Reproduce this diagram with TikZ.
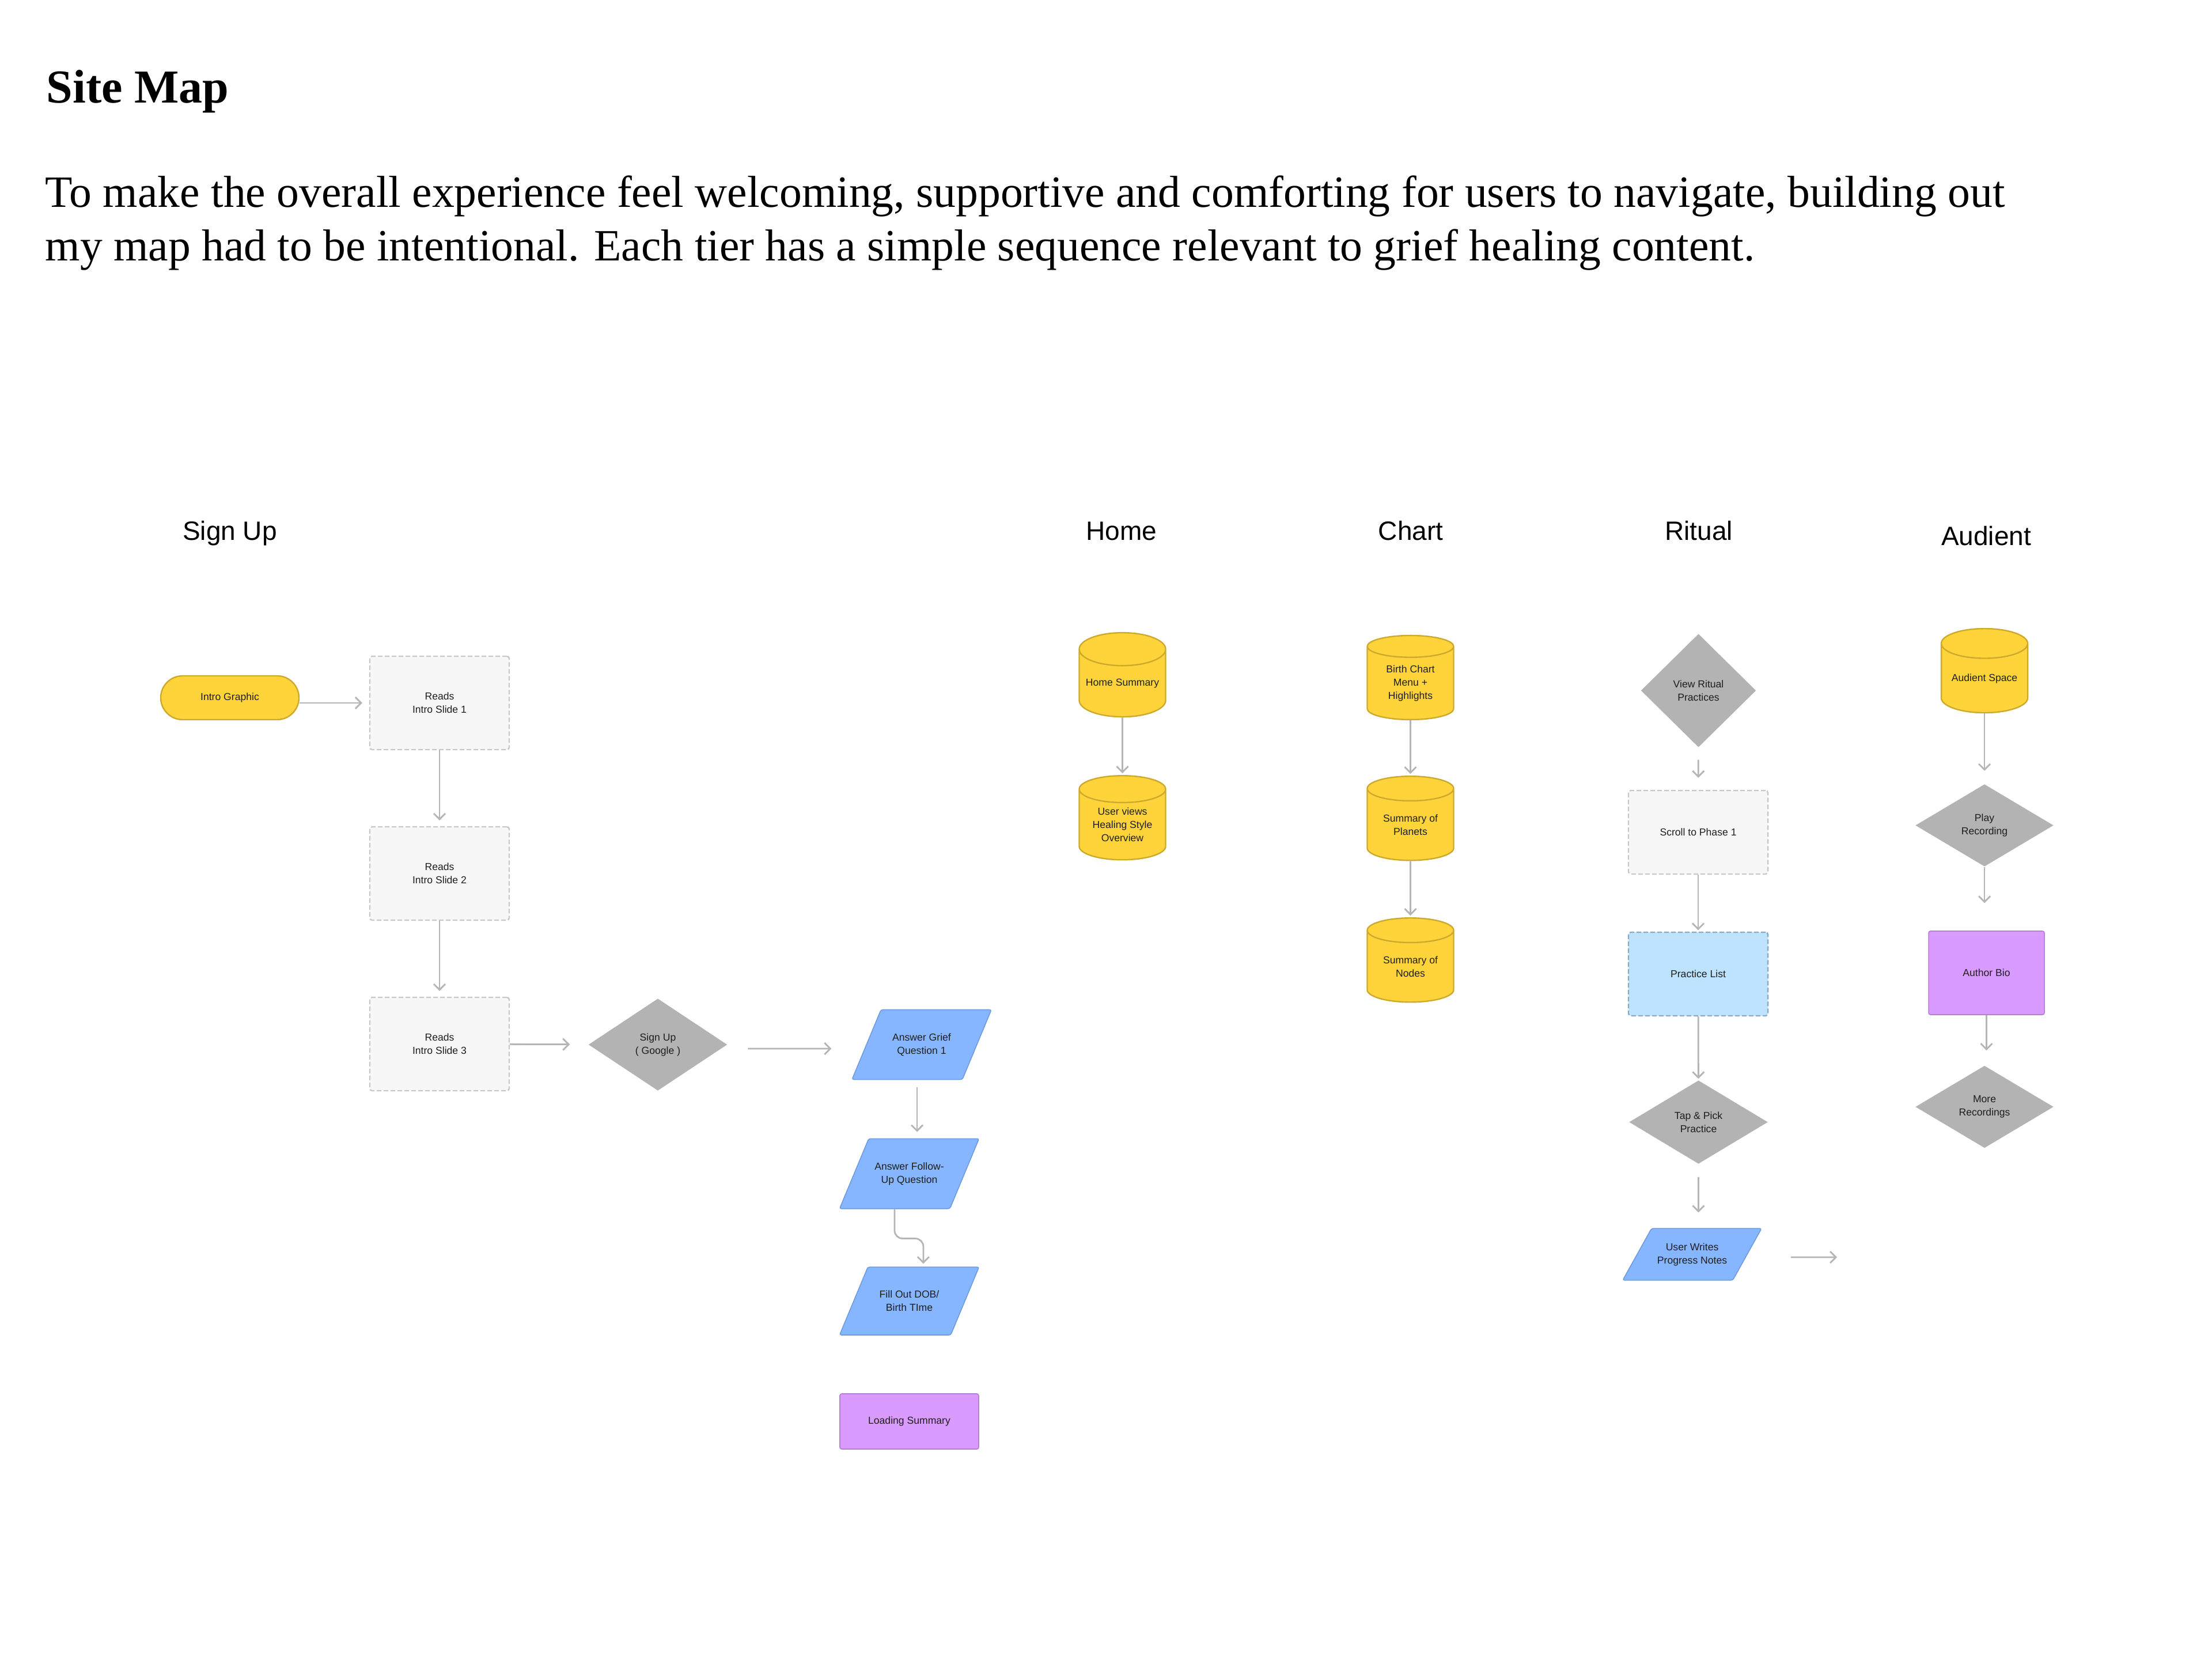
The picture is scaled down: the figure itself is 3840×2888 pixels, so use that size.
\documentclass[tikz,border=0pt]{standalone}
\usepackage{fontspec}
\setmainfont{Liberation Serif}
\setsansfont{Liberation Sans}
\usetikzlibrary{shapes.geometric,arrows.meta}
\definecolor{capsule}{HTML}{FFD43B}
\definecolor{capsuleline}{HTML}{CDA92C}
\definecolor{slidefill}{HTML}{F7F7F7}
\definecolor{slideline}{HTML}{C8C8C8}
\definecolor{choice}{HTML}{B3B3B3}
\definecolor{inputfill}{HTML}{85B6FF}
\definecolor{inputline}{HTML}{6E9CDD}
\definecolor{listfill}{HTML}{BDE3FF}
\definecolor{listline}{HTML}{8CAAC2}
\definecolor{screenfill}{HTML}{D99BFF}
\definecolor{screenline}{HTML}{B47FD6}
\definecolor{link}{HTML}{B5B5B5}
\definecolor{ink}{HTML}{1E1E1E}

\begin{document}
\begin{tikzpicture}[x=0.25pt,y=-0.25pt,
  lbl/.style={font=\sffamily\fontsize{4.4pt}{5.75pt}\selectfont,text=ink,align=center,inner sep=0pt},
  tier/.style={font=\sffamily\fontsize{11.5pt}{14pt}\selectfont,anchor=base,inner sep=0pt},
  pill/.style={lbl,draw=capsuleline,fill=capsule,line width=0.6pt,rounded corners=9.5pt,minimum width=60pt,minimum height=19pt},
  slide/.style={lbl,draw=slideline,fill=slidefill,line width=0.6pt,dash pattern=on 2pt off 1pt,rounded corners=1pt,minimum width=60.5pt},
  ask/.style={lbl,diamond,fill=choice},
  store/.style={lbl,cylinder,shape border rotate=90,aspect=0.45,draw=capsuleline,fill=capsule,line width=0.6pt,minimum width=37.5pt,minimum height=36.5pt},
  entry/.style={lbl,trapezium,trapezium stretches body,draw=inputline,fill=inputfill,line width=0.4pt,rounded corners=0.8pt},
  tallentry/.style={entry,inner ysep=10.25pt,trapezium left angle=67.4,trapezium right angle=112.6,minimum width=60.5pt},
  screen/.style={lbl,rectangle,draw=screenline,fill=screenfill,line width=0.4pt,rounded corners=0.8pt},
  flow/.style={draw=link,line width=0.7pt,-{Straight Barb[length=2.5pt,width=5pt]}}]
\useasboundingbox[fill=white] (0,0) rectangle (3840,2888);

\node[anchor=base west,inner sep=0pt,font=\bfseries\fontsize{20.5pt}{24pt}\selectfont] (title) at (80,179) {Site Map};
\node[anchor=base west,inner sep=0pt,font=\fontsize{19.4pt}{23.5pt}\selectfont] (lead1) at (78,360) {To make the overall experience feel welcoming, supportive and comforting for users to navigate, building out};
\node[anchor=base west,inner sep=0pt,font=\fontsize{19.4pt}{23.5pt}\selectfont] (lead2) at (78,453) {my map had to be intentional. Each tier has a simple sequence relevant to grief healing content.};

\node[tier] (hSignup) at (399,937) {Sign Up};
\node[tier] (hHome) at (1947,937) {Home};
\node[tier] (hChart) at (2449,937) {Chart};
\node[tier] (hRitual) at (2949,937) {Ritual};
\node[tier] (hAudient) at (3448,946) {Audient};

\node[pill] (graphic) at (399,1211) {Intro Graphic};
\foreach \n/\y in {1/1220,2/1516,3/1812}
  \node[slide,minimum height=40.5pt] (slide\n) at (763,\y) {Reads\\Intro Slide \n};
\node[ask,minimum width=60.25pt,minimum height=40pt] (google) at (1142,1813) {Sign Up\\( Google )};
\node[tallentry] (grief) at (1600,1813) {Answer Grief\\Question 1};
\node[tallentry] (follow) at (1578.5,2037) {Answer Follow-\\Up Question};
\node[tallentry] (dob) at (1578.5,2258) {Fill Out DOB/\\Birth TIme};
\node[screen,minimum width=60.25pt,minimum height=24pt] (loading) at (1578.5,2467) {Loading Summary};

\node[store] (homesum) at (1948.5,1186) {Home Summary};
\node[store] (healing) at (1948.5,1431.5) {User views\\Healing Style\\Overview};

\node[store] (birth) at (2448.5,1186) {Birth Chart\\Menu +\\Highlights};
\node[store] (planets) at (2448.5,1431.5) {Summary of\\Planets};
\node[store] (lunar) at (2448.5,1677.5) {Summary of\\Nodes};

\node[ask,minimum width=50pt,minimum height=49.25pt] (ritual) at (2948.5,1198.5) {View Ritual\\Practices};
\node[slide,minimum height=36.25pt] (scroll) at (2948,1444.5) {Scroll to Phase 1};
\node[slide,draw=listline,fill=listfill,minimum height=36.25pt] (practices) at (2948,1690.5) {Practice List};
\node[ask,minimum width=60.25pt,minimum height=36.25pt] (pick) at (2948.5,1947.5) {Tap \& Pick\\Practice};
\node[entry,inner ysep=6.3pt,trapezium left angle=60.9,trapezium right angle=119.1,minimum width=60.25pt] (notes) at (2937.5,2177) {User Writes\\Progress Notes};
\coordinate (notesOut) at (3189,2182);

\node[store] (space) at (3445,1177.5) {Audient Space};
\node[ask,minimum width=60pt,minimum height=35.75pt] (play) at (3445,1432.5) {Play\\Recording};
\node[screen,minimum width=50.25pt,minimum height=36.25pt] (bio) at (3448.5,1688.5) {Author Bio};
\node[ask,minimum width=60pt,minimum height=35.75pt] (more) at (3445,1921) {More\\Recordings};

\draw[flow,shorten >=3pt] (slide1.west -| graphic.east) -- (slide1.west);
\draw[flow,shorten >=2.5pt] (slide1) -- (slide2);
\draw[flow,shorten >=2.5pt] (slide2) -- (slide3);
\draw[flow,shorten >=8pt] (slide3) -- (google);
\draw[flow,shorten <=8.75pt,shorten >=15pt] ([yshift=-1.75pt]google.east) -- ([yshift=-1.75pt]grief.west);
\draw[flow,shorten <=3.25pt,shorten >=2.75pt] ([xshift=-2pt]grief.south) -- ([xshift=-2pt]grief.south |- follow.north);
\draw[flow,rounded corners=3.5pt,shorten >=1.25pt] ([xshift=-6.4pt]follow.south) -- ++(0,51) -| ([xshift=6.1pt]dob.north);

\draw[flow,shorten >=0.75pt] (homesum) -- (healing);
\draw[flow,shorten >=0.75pt] (birth) -- (planets);
\draw[flow,shorten >=0.75pt] (planets) -- (lunar);

\draw[flow,shorten <=5.25pt,shorten >=5.25pt] (ritual) -- (scroll);
\draw[flow,shorten >=0.6pt] (scroll) -- (practices);
\draw[flow,shorten >=0.5pt] (practices) -- (pick);
\draw[flow,shorten <=5.5pt,shorten >=6.75pt] (pick.south) -- (pick.south |- notes.north);
\draw[flow,shorten <=18.75pt] ([yshift=-1.25pt]notes.east) -- (notesOut);

\draw[flow,shorten >=5.6pt] (space) -- (play);
\draw[flow,shorten >=12pt] (play.south) -- (play.south |- bio.north);
\draw[flow,shorten >=6.4pt] (bio.south) -- (bio.south |- more.north);
\end{tikzpicture}
\end{document}
